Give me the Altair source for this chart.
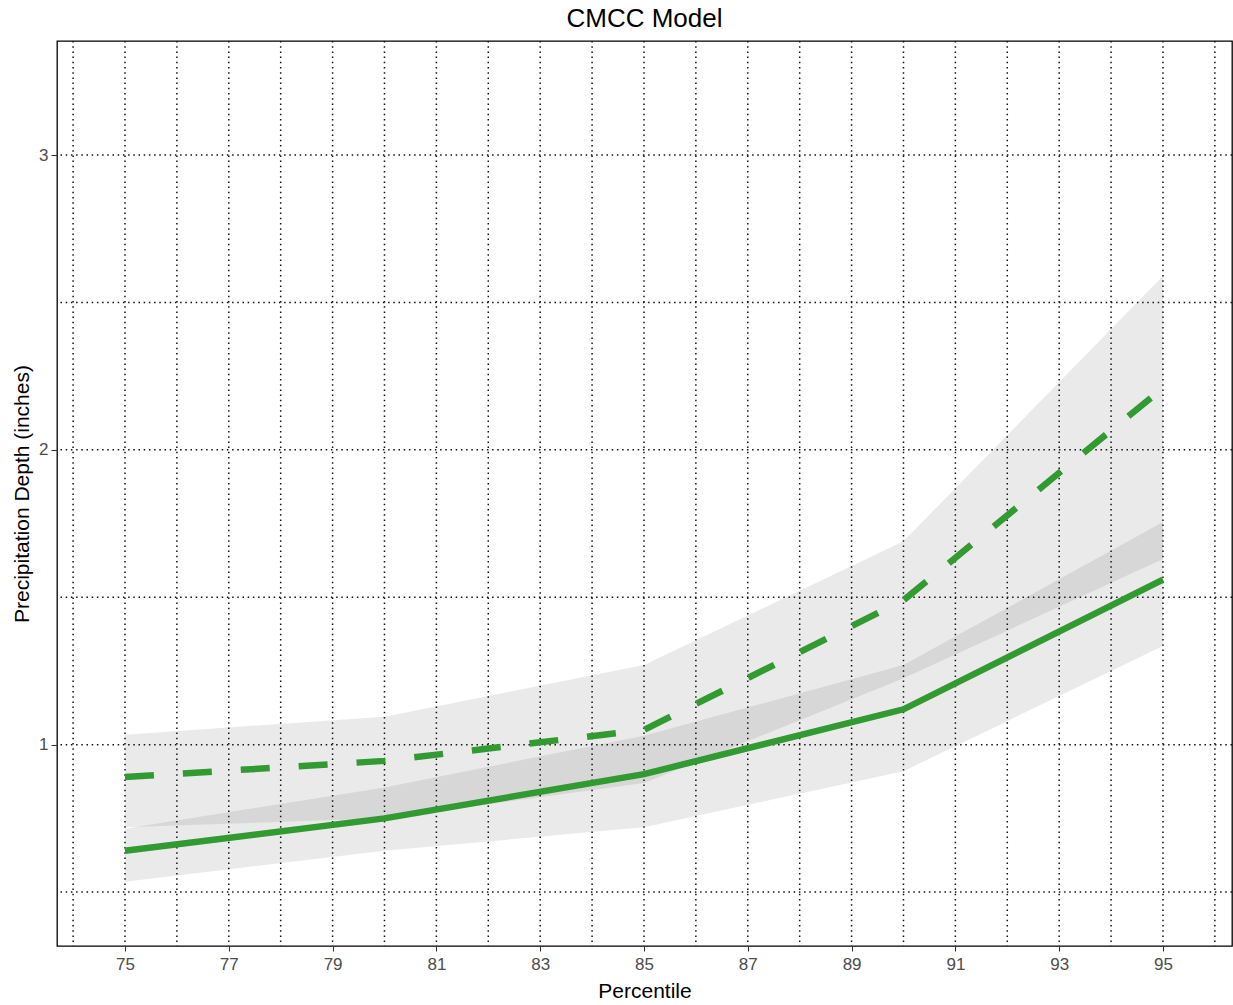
import altair as alt
import pandas as pd

# Percentiles at which the depths were evaluated
percentile = [75, 80, 85, 90, 95]

# Historical series (solid) with its uncertainty band
hist_depth = [0.64, 0.75, 0.90, 1.12, 1.56]
hist_lower = [0.535, 0.64, 0.72, 0.91, 1.335]
hist_upper = [0.715, 0.855, 1.03, 1.27, 1.755]

# Projected series (dashed) with its uncertainty band
proj_depth = [0.89, 0.945, 1.05, 1.49, 2.21]
proj_lower = [0.72, 0.75, 0.87, 1.225, 1.63]
proj_upper = [1.034, 1.095, 1.27, 1.69, 2.59]

# Grid positions and labelled ticks
x_grid = list(range(74, 97))
y_grid = [0.5, 1.0, 1.5, 2.0, 2.5, 3.0]
x_ticks = list(range(75, 96, 2))
y_ticks = [1, 2, 3]

X_DOMAIN = [73.69, 96.33]
Y_DOMAIN = [0.317, 3.387]
GREEN = "#319a31"
FONT = "Liberation Sans"

hist = pd.DataFrame({"p": percentile, "depth": hist_depth,
                     "lo": hist_lower, "hi": hist_upper})
proj = pd.DataFrame({"p": percentile, "depth": proj_depth,
                     "lo": proj_lower, "hi": proj_upper})

x_scale = alt.Scale(domain=X_DOMAIN, nice=False, zero=False)
y_scale = alt.Scale(domain=Y_DOMAIN, nice=False, zero=False)

x_axis = alt.Axis(values=x_ticks, format="d", grid=False, domain=False,
                  tickColor="#333333", tickSize=5, tickWidth=1.1, labelPadding=5,
                  labelFontSize=17, labelColor="#4d4d4d", labelFont=FONT,
                  title="Percentile", titleFont=FONT, titleFontSize=21,
                  titleFontWeight="normal", titleColor="black",
                  titleBaseline="alphabetic", titleY=51)
y_axis = alt.Axis(values=y_ticks, format="d", grid=False, domain=False,
                  tickColor="#333333", tickSize=6, tickWidth=1.1, labelPadding=3,
                  labelFontSize=17, labelColor="#4d4d4d", labelFont=FONT,
                  title="Precipitation Depth (inches)", titleFont=FONT,
                  titleFontSize=21, titleFontWeight="normal", titleColor="black",
                  titleBaseline="alphabetic", titleX=-29)

grid_style = dict(color="#111111", strokeWidth=1.5, strokeDash=[1.5, 3.7])

vgrid = alt.Chart(pd.DataFrame({"g": x_grid})).mark_rule(**grid_style).encode(
    x=alt.X("g:Q", scale=x_scale, axis=x_axis)
)
hgrid = alt.Chart(pd.DataFrame({"g": y_grid})).mark_rule(**grid_style).encode(
    y=alt.Y("g:Q", scale=y_scale, axis=y_axis)
)


def band(df):
    return alt.Chart(df).mark_area(color="#333333", opacity=0.1).encode(
        x=alt.X("p:Q", scale=x_scale),
        y=alt.Y("lo:Q", scale=y_scale),
        y2="hi:Q",
    )


hist_line = alt.Chart(hist).mark_line(color=GREEN, strokeWidth=6.5).encode(
    x=alt.X("p:Q", scale=x_scale),
    y=alt.Y("depth:Q", scale=y_scale),
)
proj_line = alt.Chart(proj).mark_line(
    color=GREEN, strokeWidth=6.5, strokeDash=[29, 29], strokeCap="butt"
).encode(
    x=alt.X("p:Q", scale=x_scale),
    y=alt.Y("depth:Q", scale=y_scale),
)

chart = alt.layer(
    vgrid, hgrid, band(proj), band(hist), proj_line, hist_line
).properties(
    width=1175,
    height=905,
    title=alt.TitleParams("CMCC Model", font=FONT, fontSize=26,
                          fontWeight="normal", color="black", offset=8),
    autosize=alt.AutoSizeParams(type="none"),
    padding={"left": 57, "top": 41, "right": 1, "bottom": 58},
).configure(
    background="white",
    view=alt.ViewConfig(stroke="black", strokeWidth=1.3),
)

chart.save("out.html", embed_options={"renderer": "svg", "actions": False})
